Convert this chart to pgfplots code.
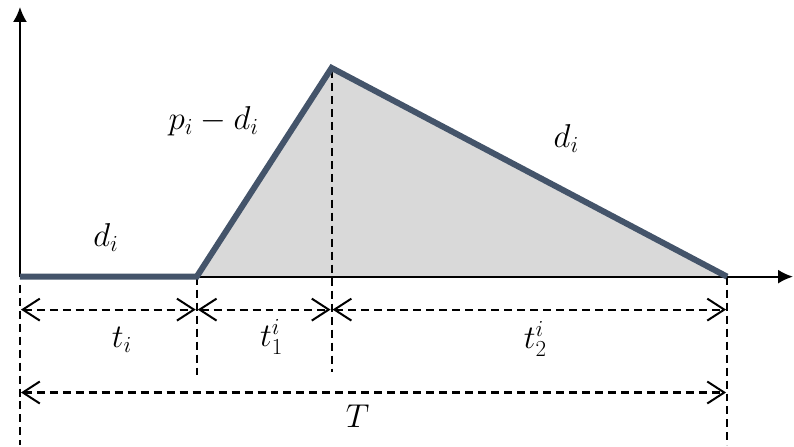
\documentclass[border=0pt]{standalone}
\usepackage{pgfplots}
\pgfplotsset{compat=1.18}
\usetikzlibrary{arrows.meta}
\definecolor{slate}{HTML}{44546A}
\definecolor{fillg}{HTML}{D9D9D9}
\tikzset{lb/.style={font=\fontsize{24}{28}\selectfont,scale=1.33}}
\begin{document}
\begin{tikzpicture}
\begin{axis}[x=1pt,y=1pt,xmin=0,xmax=794,ymin=0,ymax=446,hide axis,clip=false,scale only axis]
\addplot[draw=none] coordinates {(0,0)(794,446)};
% grey area
\addplot[fill=fillg,draw=none] coordinates {(197,169)(332,378)(728,169)} -- cycle;
% axes
\addplot[black,line width=2pt,-{Latex[length=15pt,width=14pt]}] coordinates {(20,169)(794,169)};
\addplot[black,line width=2pt,-{Latex[length=15pt,width=14pt]}] coordinates {(20,169)(20,439)};
% vertical dashed
\pgfplotsset{dl/.style={black,line width=2.1pt,dash pattern=on 8pt off 5pt}}
\addplot[dl] coordinates {(20,161)(20,0)};
\addplot[dl] coordinates {(197,169)(197,71)};
\addplot[dl] coordinates {(332,376)(332,74)};
\addplot[dl] coordinates {(728,169)(728,0)};
% profile
\addplot[slate,line width=6pt,line join=miter] coordinates {(20,169)(197,169)(332,378)(728,169)};
% dimension arrows
\pgfplotsset{da/.style={dl,{Straight Barb[length=17pt,width=22pt,line width=2pt]}-{Straight Barb[length=17pt,width=22pt,line width=2pt]}}}
\addplot[da] coordinates {(21,136)(196,136)};
\addplot[da] coordinates {(198,136)(331,136)};
\addplot[da] coordinates {(333,136)(727,136)};
\addplot[da] coordinates {(21,53)(727,53)};
% labels
\node[lb] at (axis cs:106,208) {$d_i$};
\node[lb] at (axis cs:214,325) {$p_i-d_i$};
\node[lb] at (axis cs:567,307) {$d_i$};
\node[lb] at (axis cs:122,106) {$t_i$};
\node[lb] at (axis cs:272,109) {$t_1^i$};
\node[lb] at (axis cs:536,107) {$t_2^i$};
\node[lb] at (axis cs:358,29) {$T$};
\end{axis}
\end{tikzpicture}
\end{document}
